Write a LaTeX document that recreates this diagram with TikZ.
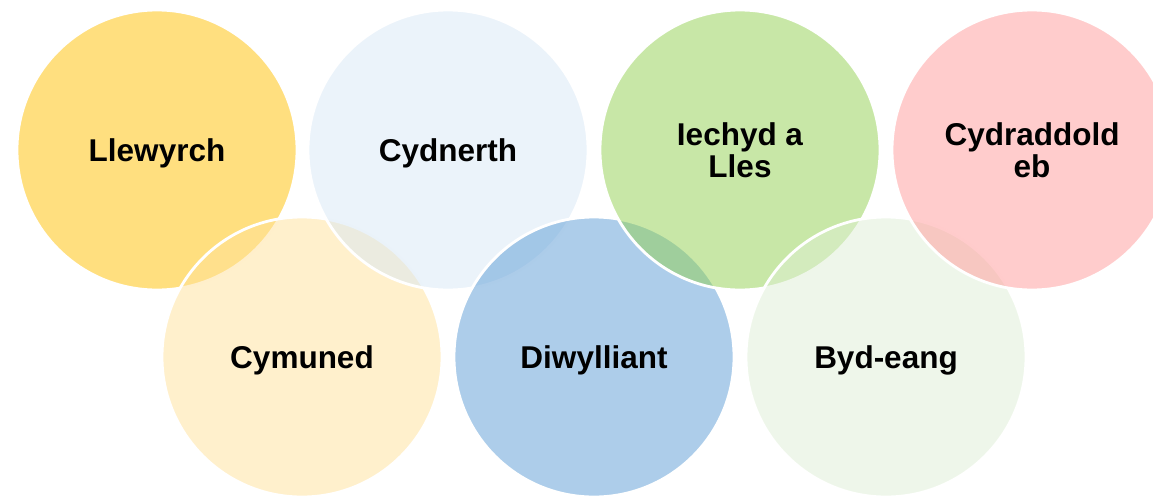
\documentclass[tikz,border=0pt]{standalone}
\usepackage{fontspec}
\setmainfont{Liberation Sans}
\definecolor{cgold}{HTML}{FFC000}
\definecolor{clgold}{HTML}{FFE199}
\definecolor{clblue}{HTML}{D7E7F5}
\definecolor{cblue}{HTML}{5B9BD5}
\definecolor{cgreen}{HTML}{92D050}
\definecolor{cpink}{HTML}{FF9999}
\definecolor{clgreen}{HTML}{DEEED5}
\begin{document}
\begin{tikzpicture}[x=1pt,y=-1pt,
  circ/.style={circle, minimum size=280pt, inner sep=0pt, draw=white,
    line width=2.8pt, fill opacity=0.5, draw opacity=1, text opacity=1,
    text=black, align=center, text depth=0pt,
    font=\fontsize{31.5}{32.7}\selectfont\bfseries}]
\useasboundingbox (0,0) rectangle (1153,496);
\clip (0,0) rectangle (1153,496);
\node[circ, fill=cgold]   (llew)  at (157,150) {Llewyrch};
\node[circ, fill=clgold]  (cymu)  at (302,357) {Cymuned};
\node[circ, fill=clblue]  (cydn)  at (448,150) {Cydnerth};
\node[circ, fill=cblue]   (diwy)  at (594,357) {Diwylliant};
\node[circ, fill=cgreen]  (iech)  at (740,150) {Iechyd a\\Lles};
\node[circ, fill=clgreen] (byde)  at (886,357) {Byd-eang};
\node[circ, fill=cpink]   (cydr)  at (1032,150) {Cydraddold\\eb};
\end{tikzpicture}
\end{document}
